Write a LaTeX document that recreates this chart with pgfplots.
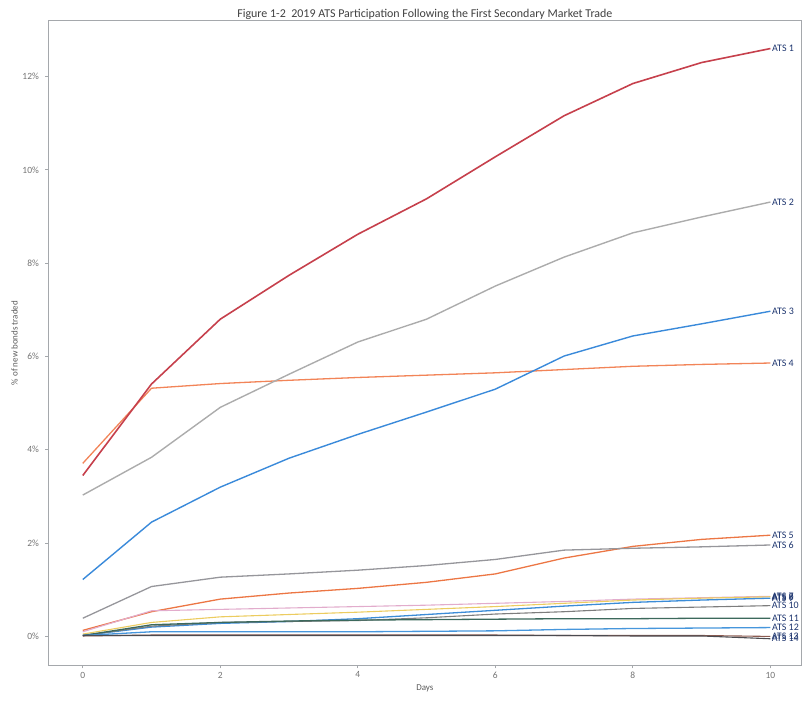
\documentclass[border=0pt]{standalone}
\usepackage{fontspec}
\setmainfont{Carlito}
\usepackage{pgfplots}
\pgfplotsset{compat=1.18}

\definecolor{axgray}{RGB}{165,168,172}
\definecolor{lblnavy}{RGB}{28,52,110}
\definecolor{ats1}{RGB}{198,64,76}
\definecolor{ats2}{RGB}{172,172,172}
\definecolor{ats3}{RGB}{58,138,218}
\definecolor{ats4}{RGB}{242,132,88}
\definecolor{ats5}{RGB}{236,118,68}
\definecolor{ats6}{RGB}{150,150,155}
\definecolor{ats7}{RGB}{226,172,204}
\definecolor{ats8}{RGB}{236,204,96}
\definecolor{ats9}{RGB}{60,140,215}
\definecolor{ats10}{RGB}{125,125,125}
\definecolor{ats11}{RGB}{60,105,92}
\definecolor{ats12}{RGB}{70,150,220}
\definecolor{ats13}{RGB}{140,92,82}
\definecolor{ats14}{RGB}{75,75,80}

\tikzset{lbl/.style={pos=1, anchor=west, inner sep=1bp, text=lblnavy,
    font=\fontsize{10}{10}\selectfont}}

\begin{document}
\begin{tikzpicture}
\begin{axis}[
    scale only axis,
    width=752bp, height=644bp,
    xmin=-0.5, xmax=10.45,
    ymin=-0.62, ymax=13.2,
    xtick={0,2,...,10},
    ytick={0,2,...,12},
    yticklabel={\pgfmathprintnumber{\tick}\%},
    /pgf/number format/assume math mode=true,
    axis line style={draw=axgray, line width=1.3bp},
    tick style={draw=axgray, line width=1bp},
    tick align=outside,
    tick pos=left,
    major tick length=3bp,
    ticklabel style={font=\fontsize{9.5}{10}\selectfont, text=black!55},
    yticklabel style={xshift=-3bp},
    title={Figure 1-2\ \ 2019 ATS Participation Following the First Secondary Market Trade},
    title style={font=\fontsize{12}{14}\selectfont, text=black!75, inner sep=2bp, yshift=-7bp},
    xlabel={Days},
    ylabel={\% of new bonds traded},
    label style={font=\fontsize{9}{10}\selectfont, text=black!65},
    xlabel style={yshift=1bp},
    ylabel style={yshift=-2bp},
    every axis plot/.append style={no marks, line width=1.1bp},
    clip=false,
]
\addplot[ats4, line width=1.3bp] coordinates {
    (0,3.71) (1,5.32) (2,5.42) (3,5.49) (4,5.55) (5,5.60) (6,5.65) (7,5.72) (8,5.79) (9,5.83) (10,5.86)
} node[lbl] {ATS 4};
\addplot[ats1, line width=1.6bp] coordinates {
    (0,3.45) (1,5.41) (2,6.80) (3,7.74) (4,8.62) (5,9.38) (6,10.28) (7,11.16) (8,11.85) (9,12.30) (10,12.60)
} node[lbl] {ATS 1};
\addplot[ats2, line width=1.4bp] coordinates {
    (0,3.03) (1,3.84) (2,4.91) (3,5.62) (4,6.31) (5,6.80) (6,7.51) (7,8.13) (8,8.65) (9,8.99) (10,9.31)
} node[lbl] {ATS 2};
\addplot[ats3, line width=1.4bp] coordinates {
    (0,1.22) (1,2.45) (2,3.20) (3,3.82) (4,4.33) (5,4.81) (6,5.30) (7,6.01) (8,6.44) (9,6.70) (10,6.97)
} node[lbl] {ATS 3};
\addplot[ats5, line width=1.3bp] coordinates {
    (0,0.13) (1,0.53) (2,0.80) (3,0.93) (4,1.03) (5,1.16) (6,1.34) (7,1.68) (8,1.93) (9,2.08) (10,2.17)
} node[lbl] {ATS 5};
\addplot[ats6, line width=1.3bp] coordinates {
    (0,0.39) (1,1.07) (2,1.27) (3,1.34) (4,1.42) (5,1.52) (6,1.65) (7,1.85) (8,1.89) (9,1.92) (10,1.96)
} node[lbl] {ATS 6};
\addplot[ats7] coordinates {
    (0,0.10) (1,0.55) (2,0.58) (3,0.61) (4,0.64) (5,0.67) (6,0.71) (7,0.75) (8,0.80) (9,0.83) (10,0.86)
} node[lbl] {ATS 7};
\addplot[ats8] coordinates {
    (0,0.05) (1,0.30) (2,0.42) (3,0.47) (4,0.52) (5,0.58) (6,0.64) (7,0.71) (8,0.78) (9,0.82) (10,0.85)
} node[lbl] {ATS 8};
\addplot[ats9, line width=1.3bp] coordinates {
    (0,0.02) (1,0.20) (2,0.28) (3,0.32) (4,0.38) (5,0.47) (6,0.56) (7,0.65) (8,0.73) (9,0.78) (10,0.82)
} node[lbl] {ATS 9};
\addplot[ats10] coordinates {
    (0,0.02) (1,0.22) (2,0.30) (3,0.32) (4,0.34) (5,0.40) (6,0.48) (7,0.53) (8,0.60) (9,0.63) (10,0.66)
} node[lbl] {ATS 10};
\addplot[ats11, line width=1.3bp] coordinates {
    (0,0.02) (1,0.25) (2,0.30) (3,0.33) (4,0.35) (5,0.36) (6,0.37) (7,0.38) (8,0.38) (9,0.39) (10,0.39)
} node[lbl] {ATS 11};
\addplot[ats12, line width=1.3bp] coordinates {
    (0,0.02) (1,0.10) (2,0.10) (3,0.10) (4,0.10) (5,0.11) (6,0.12) (7,0.15) (8,0.17) (9,0.18) (10,0.19)
} node[lbl] {ATS 12};
\addplot[ats13] coordinates {
    (0,0.01) (1,0.03) (2,0.03) (3,0.03) (4,0.03) (5,0.03) (6,0.03) (7,0.02) (8,0.02) (9,0.02) (10,0.00)
} node[lbl] {ATS 13};
\addplot[ats14] coordinates {
    (0,0.02) (1,0.02) (2,0.02) (3,0.02) (4,0.02) (5,0.02) (6,0.02) (7,0.02) (8,0.01) (9,0.01) (10,-0.05)
} node[lbl] {ATS 14};
\end{axis}
% page margins as in the scan
\path ([xshift=-8bp,yshift=-7bp]current bounding box.south west)
    rectangle ([yshift=7bp]current bounding box.north east);
\end{tikzpicture}
\end{document}
